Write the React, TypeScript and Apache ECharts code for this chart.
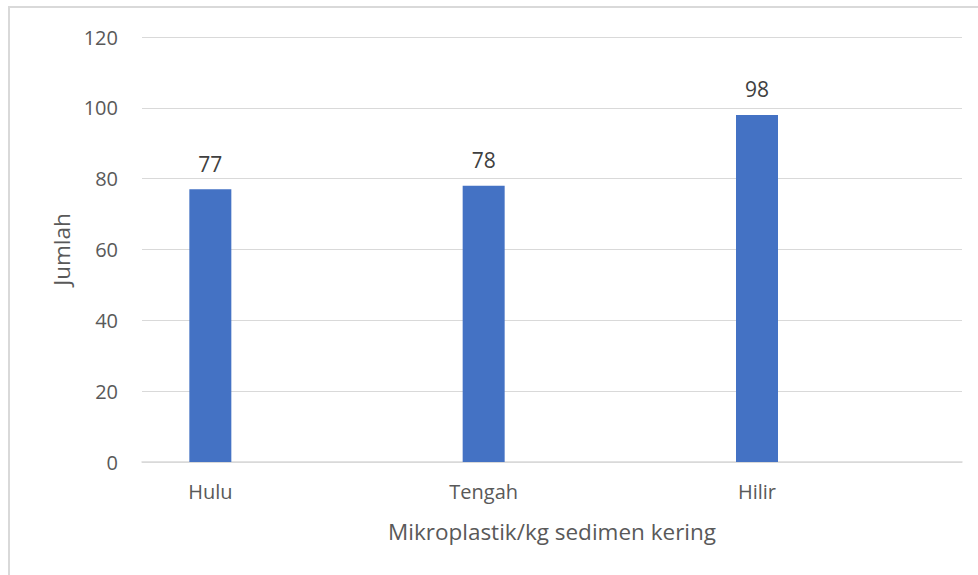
import React, { useEffect, useRef } from "react";
import * as echarts from "echarts";

const categories = ["Hulu", "Tengah", "Hilir"];
const values = [77, 78, 98];
const yTicks = [0, 20, 40, 60, 80, 100, 120];
const xTitle = "Mikroplastik/kg sedimen kering";
const yTitle = "Jumlah";

export default function App() {
  const ref = useRef<HTMLDivElement>(null);
  useEffect(() => {
    document.body.style.margin = "0";
    const chart = echarts.init(ref.current!, null, { renderer: "svg" });
    const font = "'Open Sans', 'Noto Sans', sans-serif";
    // Each category occupies the left half of its slot (Excel clustered layout),
    // so interleave an empty slot after every category.
    const slotCats: string[] = [];
    const slotVals: (number | null)[] = [];
    categories.forEach((c, i) => {
      slotCats.push(c, "");
      slotVals.push(values[i], null);
    });
    chart.setOption({
      animation: false,
      backgroundColor: "#ffffff",
      textStyle: { fontFamily: font },
      graphic: [
        {
          type: "rect",
          shape: { x: 9, y: 7, width: 1100, height: 700 },
          style: { fill: "none", stroke: "#d9d9d9", lineWidth: 2 },
          silent: true,
        },
      ],
      grid: { left: 142, right: 16, top: 37, bottom: 113 },
      xAxis: {
        type: "category",
        data: slotCats,
        name: xTitle,
        nameLocation: "middle",
        nameGap: 58,
        nameTextStyle: { color: "#595959", fontSize: 22.5, fontFamily: font },
        axisLine: { show: true, lineStyle: { color: "#d9d9d9", width: 1.5 } },
        axisTick: { show: false },
        axisLabel: { color: "#595959", fontSize: 20, margin: 19, interval: 0, fontFamily: font },
      },
      yAxis: {
        type: "value",
        min: yTicks[0],
        max: yTicks[yTicks.length - 1],
        interval: yTicks[1] - yTicks[0],
        name: yTitle,
        nameLocation: "middle",
        nameGap: 68,
        nameRotate: 90,
        nameTextStyle: { color: "#595959", fontSize: 22.5, fontFamily: font },
        axisLine: { show: false },
        axisTick: { show: false },
        axisLabel: { color: "#595959", fontSize: 20, margin: 24, fontFamily: font },
        splitLine: { lineStyle: { color: "#d9d9d9", width: 1.2 } },
      },
      series: [
        {
          type: "bar",
          data: slotVals,
          barWidth: 42,
          itemStyle: { color: "#4472c4" },
          label: {
            show: true,
            position: "top",
            distance: 15,
            color: "#404040",
            fontSize: 21,
            fontFamily: font,
          },
        },
      ],
    });
    return () => chart.dispose();
  }, []);
  return <div ref={ref} style={{ width: 978, height: 575 }} />;
}
